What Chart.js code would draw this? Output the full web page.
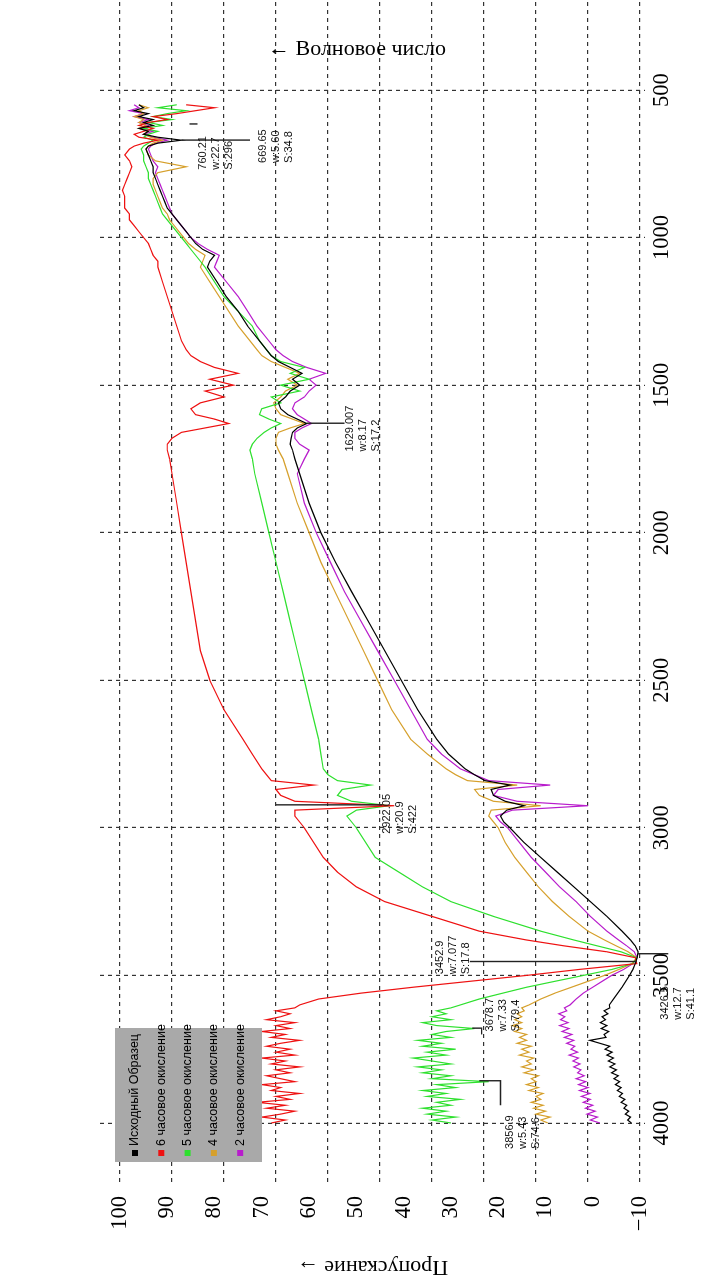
<!DOCTYPE html>
<html>
<head>
<meta charset="utf-8">
<script src="https://cdn.jsdelivr.net/npm/chart.js@4.4.1/dist/chart.umd.min.js"></script>
<style>
  html, body { margin: 0; padding: 0; background: #ffffff; }
  body { width: 714px; height: 1282px; position: relative; overflow: hidden; }
  /* the spectrum is laid out landscape and turned a quarter turn counter-clockwise */
  #plot { position: absolute; left: 0; top: 0; width: 1282px; height: 714px;
          transform-origin: 0 0; transform: translate(0, 1282px) rotate(-90deg); }
  #plot canvas { display: block; }
  #wnTitle { position: absolute; left: 0; width: 714px; top: 35px; text-align: center;
             font-family: "Liberation Serif", "DejaVu Serif", serif; font-size: 22px; color: #000; }
</style>
</head>
<body>
<div id="plot"><canvas id="spectrum" width="1282" height="714"></canvas></div>
<div id="wnTitle">← Волновое число</div>
<script>
// wavenumber grid, cm^-1
const wavenumbers = [
  4000,3990,3980,3970,3960,3950,3940,3930,3920,3910,
  3900,3890,3880,3870,3860,3850,3840,3830,3820,3810,
  3800,3790,3780,3770,3760,3750,3740,3730,3720,3710,
  3700,3690,3680,3670,3660,3650,3640,3630,3620,3610,
  3600,3580,3560,3540,3520,3500,3480,3460,3440,3420,
  3400,3380,3350,3300,3250,3200,3150,3100,3050,3000,
  2980,2960,2940,2925,2910,2890,2870,2855,2840,2820,
  2800,2750,2700,2600,2500,2400,2300,2200,2100,2000,
  1900,1800,1750,1720,1700,1680,1660,1645,1630,1615,
  1600,1580,1560,1540,1520,1500,1480,1460,1440,1420,
  1400,1380,1350,1300,1250,1200,1150,1100,1080,1060,
  1040,1020,1000,980,960,940,920,900,880,860,
  840,820,800,780,760,740,720,700,690,680,
  670,660,650,640,630,620,610,600,590,580,
  570,560,550
];

// transmission, %
const originalSample = [
  -8.2,-7.4,-8.0,-6.9,-7.6,-6.6,-7.2,-6.0,-6.8,-5.6,
  -6.3,-5.2,-6.0,-4.8,-5.7,-4.5,-5.4,-4.0,-5.0,-3.6,
  -4.7,-3.3,-4.4,-3.0,-4.1,-2.6,-3.6,-1.5,0.6,-2.8,
  -2.4,-3.4,-1.8,-3.0,-1.6,-2.7,-2.0,-3.2,-2.4,-3.6,
  -3.5,-4.4,-5.3,-6.2,-7.0,-7.8,-8.5,-9.0,-9.4,-9.6,
  -9.0,-8.0,-6.2,-3.0,0.5,4.0,7.5,11.0,14.5,17.5,
  18.8,19.5,18.2,14.5,18.5,21.0,21.5,17.5,22.8,25.0,
  27.0,30.5,33.0,37.0,40.5,44.0,47.5,51.0,54.4,57.5,
  60.0,62.0,63.0,63.5,64.0,63.8,63.5,62.5,60.5,62.5,
  64.5,66.0,66.5,65.0,64.0,62.0,63.5,61.5,64.0,66.5,
  68.0,69.0,70.5,73.0,75.0,77.5,79.5,81.5,81.0,80.0,
  82.5,84.0,85.0,86.0,87.0,88.0,89.0,90.0,90.5,91.0,
  91.5,92.0,92.5,93.0,93.0,93.5,94.0,94.5,94.0,92.0,
  87.0,92.0,95.0,94.0,96.0,93.0,95.0,93.0,96.0,94.0,
  97.0,95.0,96.0
];
const oxidation6h = [
  68,65,70,66,63,69,65,71,64,67,
  62,68,66,70,63,66,69,64,67,62,
  68,65,70,63,67,64,69,66,62,68,
  65,70,64,67,63,69,66,64,67,63,
  62,58,49,38,26,14,3,-9.3,-9.0,-3,
  6,14,24,34,44,50,54,57,59,61,
  62,63,63,42,63,66,67,59,68,69,
  70,72,74,78,81,83,84,85,86,87,
  88,89,89.5,90,90,89,87,82,77,80,
  84,85,83,78,82,76,81,75,80,83,
  85,86,87,88,89,90,91,92,92,93,
  93.5,94,95,96,97,98,98,99,99,99,
  99.5,99,98.5,98,97.5,98,99,98,97,95,
  92,96,97,95,93,96,94,90,93,88,
  84,80,86
];
const oxidation5h = [
  30,34,29,35,31,36,30,33,28,35,
  31,36,29,33,22,34,30,36,32,37,
  30,34,38,31,35,29,36,32,37,30,
  34,31,25,33,36,30,34,31,33,30,
  28,24,19,14,8,2,-4,-8.5,-9.3,-6,
  -1,4,11,21,30,36,41,46,48,50,
  51,52,50,43,51,54,53,47,54,56,
  57,57.5,58,59.5,61,62.5,64,65.5,67,68.5,
  70,71.5,72,72.5,72,71,69.5,68,66,68.5,
  70.5,70,66,68,62,66,60,64,61,66,
  68,69,70.5,72,75,78,80,82,83,84,
  85,86,87,88,89,90,91,91.5,92,92.5,
  93,93.5,94,94,94.5,95,95,95.5,95,94,
  93,95,94,92,95,91,94,89,93,90,
  86,92,88
];
const oxidation4h = [
  9.5,11,9,12,10,12.5,10.5,13,11,12,
  10.5,13.5,11.5,14,12,13,11.5,14.5,12.5,15,
  13,14,12.5,15.5,13.5,15,13,16,14,15.5,
  14,16.5,15,17,15,16.5,15,16,14.5,15,
  13.5,11,8,4.5,1,-2.5,-5.5,-8.3,-9.3,-7.5,
  -5,-2.5,1,5,8.5,11.5,14,16.5,18.5,20,
  21,22,21.5,11,21,24,25,16,26.5,29,
  31,35,38.5,42.5,45.5,48.5,51.5,54.5,57.5,60,
  62.5,64.5,65.5,66.5,67,67,66.5,64,61,63.5,
  66,67,67.5,66,65,62.5,64.5,62,65,68,
  70,71,72.5,75,77,79,81,83,82.5,82,
  84,85.5,86.5,87.5,88.5,89.5,90,91,91.5,92,
  92.5,93,93,92,86,92.5,94,94.5,94,93,
  91,93.5,95,94,96,94.5,96,95,97,95,
  96,94,96
];
const oxidation2h = [
  -1.5,0.5,-1,1.2,-0.5,1.5,0,2,0.5,2.4,
  0.6,2.8,1,3,1.5,3.5,1.8,3.2,2.5,4,
  2.7,4.2,3,5,3.2,4.6,3.8,5.5,4,6,
  4.4,6.5,5,7,5.2,6.8,5.9,7.2,5.5,6,
  4.8,3.5,2,0,-2,-4,-6.5,-8.5,-9.4,-8.8,
  -7.2,-5.5,-3,0.5,3.5,7,10,13,15.5,18,
  19.5,20.5,17,1,16,21,20,9,22,25,
  28,32,35,38.5,42,45.5,49,52.5,55.5,58.5,
  61,62.5,61,60,62,63,63,61.5,59.5,61,
  62.5,63.5,63,61,60,58.5,60,56.5,60.5,63.5,
  65.5,67,68.5,71,73,75,77.5,80,79.5,79,
  81.5,83.5,85,86,87,88,89,89.5,90,90.5,
  91,91.5,92,92.5,92,93,93.5,94,93.5,92.5,
  90,93,95,93,95.5,94,96,94,97,95,
  98,96,97
];

const seriesNames = ['Исходный Образец', '6 часовое окисление', '5 часовое окисление',
                     '4 часовое окисление', '2 часовое окисление'];
const wavenumberTicks = [500, 1000, 1500, 2000, 2500, 3000, 3500, 4000];
const transmissionTicks = [100, 90, 80, 70, 60, 50, 40, 30, 20, 10, 0, -10];

// fitted peaks: centre, width, area
const peakCentres = ['669.65', '760.21', '1629.007', '2922.05', '3452.9', '3426.5', '3678.7', '3856.9'];
const peakWidths  = ['5.60', '22.7', '8.17', '20.9', '7.077', '12.7', '7.33', '5.43'];
const peakAreas   = ['34.8', '296', '17.2', '422', '17.8', '41.1', '79.4', '74.6'];

// ---- drawing ----
const allSeries = [originalSample, oxidation6h, oxidation5h, oxidation4h, oxidation2h];
const lineColours = ['#000000', '#ee1111', '#2ee02e', '#d6a02c', '#b81ccc'];

const T_MAX = 104.23, T_MIN = -11.06;   // transmission shown across the plot height
const WN_MIN = 195, WN_MAX = 4200;      // wavenumber shown across the plot width
const GRID_STEP = 11;                   // transmission grid spacing

const datasets = allSeries.map((vals, i) => ({
  label: seriesNames[i],
  data: wavenumbers.map((w, j) => ({ x: w, y: vals[j] })),
  borderColor: lineColours[i],
  backgroundColor: lineColours[i],
  borderWidth: 1.2,
  pointRadius: 0,
  tension: 0,
  fill: false
}));

// leader lines and text placement for each fitted peak: [leader points (wn,T)], text start wn, first line T
const peakLayout = [
  { lead: [[669.65, 87], [669.65, 72.5]], tx: 747, ty: 69.7 },
  { lead: [[615, 85.3], [615, 83.6]], tx: 770, ty: 82.4 },
  { lead: [[1629.007, 60.5], [1629.007, 52.5]], tx: 1725, ty: 51.3 },
  { lead: [[2922.05, 67], [2922.05, 44.5]], tx: 3020, ty: 43.5 },
  { lead: [[3452.9, -9.3], [3452.9, 26]], tx: 3496, ty: 32.3 },
  { lead: [[3426.5, -9.6], [3426.5, -16]], tx: 3650, ty: -15.2 },
  { lead: [[3678.7, 25.5], [3678.7, 23.5], [3700, 23.5]], tx: 3690, ty: 21.8 },
  { lead: [[3856.9, 24], [3856.9, 19.5], [3940, 19.5]], tx: 4088, ty: 17.5 }
];

const peakLabelPlugin = {
  id: 'peakLabels',
  afterDatasetsDraw(chart) {
    const { ctx, scales: { x, y } } = chart;
    ctx.save();
    ctx.strokeStyle = '#222';
    ctx.lineWidth = 1.4;
    ctx.fillStyle = '#111';
    ctx.font = '11px "Liberation Sans", Arial, sans-serif';
    ctx.textAlign = 'left';
    ctx.textBaseline = 'middle';
    peakLayout.forEach((p, i) => {
      ctx.beginPath();
      p.lead.forEach((pt, k) => {
        const px = x.getPixelForValue(pt[0]), py = y.getPixelForValue(pt[1]);
        if (k === 0) ctx.moveTo(px, py); else ctx.lineTo(px, py);
      });
      ctx.stroke();
      const lines = [peakCentres[i], 'w:' + peakWidths[i], 'S:' + peakAreas[i]];
      const tx = x.getPixelForValue(p.tx);
      const ty = y.getPixelForValue(p.ty);
      lines.forEach((s, k) => ctx.fillText(s, tx, ty + k * 13));
    });
    ctx.restore();
  }
};

const legendBoxPlugin = {
  id: 'legendBox',
  afterDraw(chart) {
    const ctx = chart.ctx;
    const left = 120, top = 115, width = 134, height = 147;
    ctx.save();
    ctx.fillStyle = '#a9a9a9';
    ctx.fillRect(left, top, width, height);
    ctx.font = '12.5px "Liberation Sans", Arial, sans-serif';
    ctx.textBaseline = 'middle';
    ctx.textAlign = 'left';
    chart.data.datasets.forEach((ds, i) => {
      const cy = top + 20 + i * 26.3;
      ctx.fillStyle = ds.borderColor;
      ctx.fillRect(left + 6, cy - 3, 6, 6);
      ctx.fillStyle = '#000';
      ctx.fillText(ds.label, left + 16, cy);
    });
    ctx.restore();
  }
};

const serif = '"Liberation Serif", "DejaVu Serif", serif';

new Chart(document.getElementById('spectrum'), {
  type: 'line',
  data: { datasets },
  plugins: [peakLabelPlugin, legendBoxPlugin],
  options: {
    responsive: false,
    animation: false,
    devicePixelRatio: 1,
    layout: { padding: { top: 100, right: 0, bottom: 0, left: 0 } },
    plugins: { legend: { display: false }, tooltip: { enabled: false }, title: { display: false } },
    scales: {
      x: {
        type: 'linear', position: 'bottom', reverse: true, min: WN_MIN, max: WN_MAX,
        afterBuildTicks: s => { s.ticks = wavenumberTicks.map(v => ({ value: v })); },
        afterFit: s => { s.height = 69; },
        ticks: { font: { family: serif, size: 22.5 }, color: '#000', padding: 4,
                 maxRotation: 0, minRotation: 0, autoSkip: false, callback: v => String(v) },
        grid: { color: '#333', lineWidth: 1.2, drawTicks: false },
        border: { display: false, dash: [4, 4] }
      },
      yGrid: {
        type: 'linear', position: 'left', min: T_MIN, max: T_MAX, weight: 0,
        afterBuildTicks: s => {
          const t = [];
          for (let v = 100; v >= -10; v -= GRID_STEP) t.push({ value: v });
          s.ticks = t;
        },
        afterFit: s => { s.width = 0; },
        ticks: { display: false },
        grid: { color: '#333', lineWidth: 1.2, drawTicks: false },
        border: { display: false, dash: [4, 4] }
      },
      y: {
        type: 'linear', position: 'left', min: T_MIN, max: T_MAX, weight: 1,
        afterBuildTicks: s => { s.ticks = transmissionTicks.map(v => ({ value: v })); },
        afterFit: s => { s.width = 100; },
        ticks: { font: { family: serif, size: 22.5 }, color: '#000', padding: 14, autoSkip: false,
                 callback: v => (v < 0 ? '\u2212' + Math.abs(v) : String(v)) },
        grid: { display: false, drawTicks: false },
        border: { display: false },
        title: { display: true, text: 'Пропускание →', font: { family: serif, size: 22 },
                 color: '#000', padding: { top: 2, bottom: 0 } }
      }
    }
  }
});
</script>
</body>
</html>
